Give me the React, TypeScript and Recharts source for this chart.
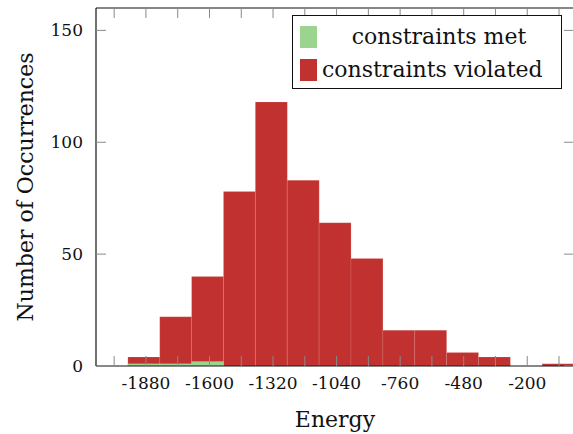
import { ComposedChart, Bar, Line, XAxis, YAxis, Legend } from 'recharts';

// histogram bins (start energy of each bin, width 140); first bin is empty padding
const binStarts = [-2104, -1964, -1824, -1684, -1544, -1404, -1264, -1124, -984, -844, -704, -564, -424, -284, -144];
const violatedCounts = [0, 4, 22, 40, 78, 118, 83, 64, 48, 16, 16, 6, 4, 0, 1];
const metCounts = [0, 1, 1, 2, 0, 0, 0, 0, 0, 0, 0, 0, 0, 0, 0];

const energyDomain: [number, number] = [-2100, 6];
const energyTicks = [-2020, -1880, -1740, -1600, -1460, -1320, -1180, -1040, -900, -760, -620, -480, -340, -200, -60];
const energyLabels = [-1880, -1600, -1320, -1040, -760, -480, -200];
const countTicks = [0, 50, 100, 150];

const BIN_WIDTH = 140;

const RED = '#c1312f';
const GREEN = '#9bd48f';
const TICK = '#8a8a8a';
const FONT = '"DejaVu Serif", serif';

const data = binStarts.map((start, i) => ({
  bin: start,
  mid: start + BIN_WIDTH / 2,
  violated: violatedCounts[i],
  met: metCounts[i],
}));

const series = [
  { key: 'met', name: 'constraints met', color: GREEN, centered: true },
  { key: 'violated', name: 'constraints violated', color: RED, centered: false },
];

const TICK_LEN = 10;

function BottomTick({ x, y, payload }: any) {
  const show = energyLabels.includes(payload.value);
  return (
    <g>
      <line x1={x} x2={x} y1={y} y2={y - TICK_LEN} stroke={TICK} strokeWidth={1} />
      {show && (
        <text x={x} y={y + 23} textAnchor="middle" fontFamily={FONT} fontSize={17} fill="#111">
          {payload.value}
        </text>
      )}
    </g>
  );
}

function TopTick({ x, y }: any) {
  return <line x1={x} x2={x} y1={y} y2={y + TICK_LEN} stroke={TICK} strokeWidth={1} />;
}

function LeftTick({ x, y, payload }: any) {
  return (
    <g>
      <line x1={x} x2={x + TICK_LEN} y1={y} y2={y} stroke={TICK} strokeWidth={1} />
      <text x={x - 13} y={y + 6} textAnchor="end" fontFamily={FONT} fontSize={17} fill="#111">
        {payload.value}
      </text>
    </g>
  );
}

function RightTick({ x, y }: any) {
  return <line x1={x} x2={x - TICK_LEN} y1={y} y2={y} stroke={TICK} strokeWidth={1} />;
}

function LegendBox() {
  return (
    <div
      style={{
        width: 268,
        height: 72,
        border: '1.5px solid #111',
        background: '#fff',
        fontFamily: FONT,
        fontSize: 22,
        color: '#111',
        boxSizing: 'content-box',
      }}
    >
      {series.map((s) => (
        <div key={s.key} style={{ display: 'flex', alignItems: 'center', height: 33, marginTop: s.centered ? 4 : 0 }}>
          <span style={{ width: 17, height: 22, background: s.color, marginLeft: 7, flex: 'none' }} />
          <span style={{ flex: 1, textAlign: s.centered ? 'center' : 'left', paddingLeft: s.centered ? 0 : 5, lineHeight: '33px' }}>
            {s.name}
          </span>
        </div>
      ))}
    </div>
  );
}

const frame = { stroke: '#111', strokeWidth: 1.2 };

export default function App() {
  return (
    <div style={{ position: 'absolute', left: 0, top: 0, width: 573, height: 434, overflow: 'hidden', background: '#fff' }}>
      <ComposedChart
        width={576}
        height={434}
        data={data}
        margin={{ top: 7, right: 0, bottom: 0, left: 0 }}
        barCategoryGap={0}
        barGap={0}
      >
        <XAxis xAxisId="binsA" dataKey="bin" type="category" height={0} hide />
        <XAxis xAxisId="binsB" dataKey="bin" type="category" height={0} hide />
        <XAxis
          xAxisId="energy"
          dataKey="mid"
          type="number"
          domain={energyDomain}
          allowDataOverflow
          ticks={energyTicks}
          interval={0}
          height={68}
          tickSize={0}
          tickMargin={0}
          tickLine={false}
          axisLine={frame}
          tick={<BottomTick />}
          label={{
            content: ({ viewBox }: any) => (
              <text
                x={viewBox.x + viewBox.width / 2}
                y={viewBox.y + 61}
                textAnchor="middle"
                fontFamily={FONT}
                fontSize={22}
                fill="#111"
              >
                Energy
              </text>
            ),
          }}
        />
        <XAxis
          xAxisId="energyTop"
          dataKey="mid"
          orientation="top"
          type="number"
          domain={energyDomain}
          allowDataOverflow
          ticks={energyTicks}
          interval={0}
          height={1}
          tickSize={0}
          tickMargin={0}
          tickLine={false}
          axisLine={frame}
          tick={<TopTick />}
        />
        <YAxis
          yAxisId="left"
          type="number"
          domain={[0, 160]}
          allowDataOverflow
          ticks={countTicks}
          interval={0}
          width={96}
          tickSize={0}
          tickMargin={0}
          tickLine={false}
          axisLine={frame}
          tick={<LeftTick />}
          label={{
            content: ({ viewBox }: any) => {
              const cx = viewBox.x + 33;
              const cy = viewBox.y + viewBox.height / 2;
              return (
                <text
                  x={cx}
                  y={cy}
                  transform={`rotate(-90 ${cx} ${cy})`}
                  textAnchor="middle"
                  fontFamily={FONT}
                  fontSize={22}
                  fill="#111"
                >
                  Number of Occurrences
                </text>
              );
            },
          }}
        />
        <YAxis
          yAxisId="right"
          orientation="right"
          type="number"
          domain={[0, 160]}
          allowDataOverflow
          ticks={countTicks}
          interval={0}
          width={2}
          tickSize={0}
          tickMargin={0}
          tickLine={false}
          axisLine={frame}
          tick={<RightTick />}
        />
        <Bar
          xAxisId="binsA"
          yAxisId="left"
          dataKey="violated"
          name="constraints violated"
          fill={RED}
          stroke="rgba(255,255,255,0.25)"
          strokeWidth={0.5}
          isAnimationActive={false}
        />
        <Bar
          xAxisId="binsB"
          yAxisId="left"
          dataKey="met"
          name="constraints met"
          fill={GREEN}
          stroke="rgba(255,255,255,0.25)"
          strokeWidth={0.5}
          isAnimationActive={false}
        />
        {/* invisible series so the energy and right-hand axes have something bound */}
        <Line xAxisId="energy" yAxisId="right" dataKey="violated" stroke="none" dot={false} activeDot={false} legendType="none" isAnimationActive={false} />
        <Line xAxisId="energyTop" yAxisId="left" dataKey="violated" stroke="none" dot={false} activeDot={false} legendType="none" isAnimationActive={false} />
        <Legend
          layout="vertical"
          align="center"
          verticalAlign="middle"
          content={<LegendBox />}
          wrapperStyle={{ position: 'absolute', left: 292, top: 15, width: 'auto' }}
        />
      </ComposedChart>
    </div>
  );
}
